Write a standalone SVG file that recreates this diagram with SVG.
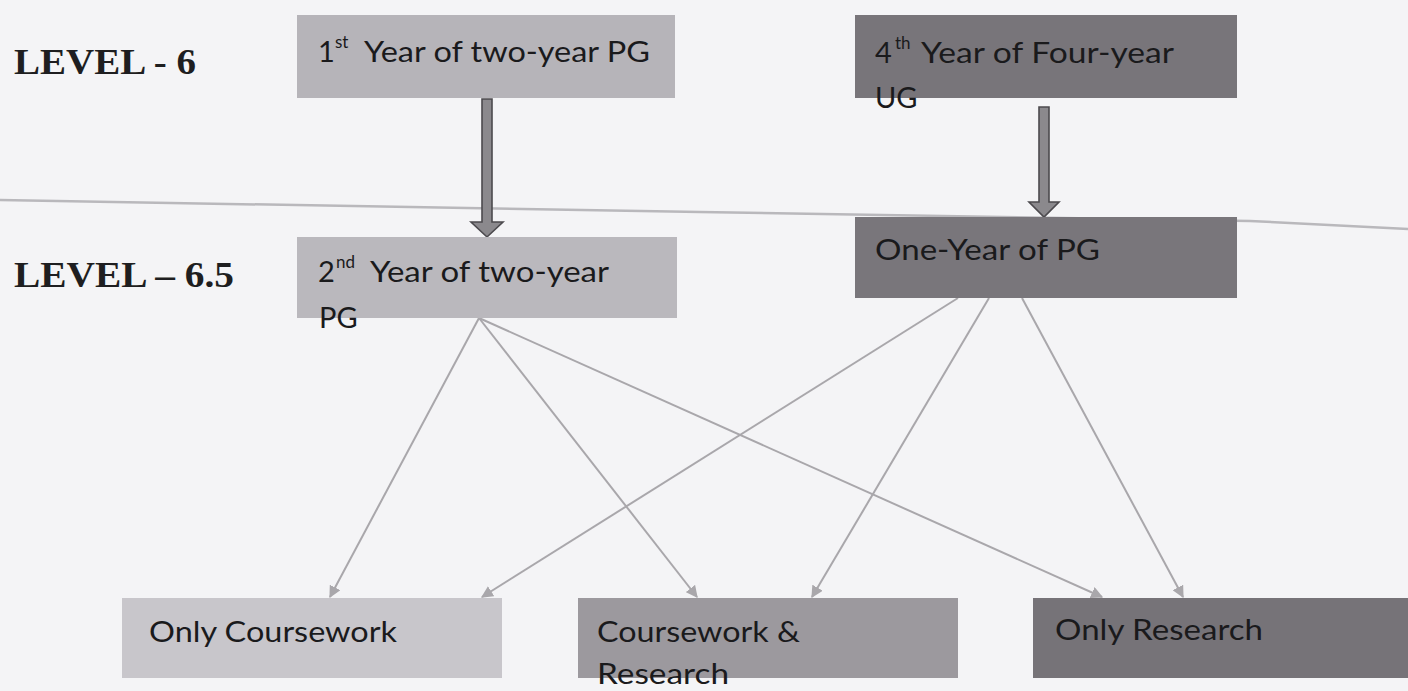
<svg xmlns="http://www.w3.org/2000/svg" width="1408" height="691" viewBox="0 0 1408 691">
<defs>
<style>
.lvl{font-family:"Liberation Serif","Times New Roman",serif;font-weight:bold;font-size:35px;fill:#1e1e20}
.t{font-family:Lato,"Open Sans","Liberation Sans",sans-serif;font-size:29px;fill:#1a1a1c}
.sup{font-size:17px}
.box{stroke:none}
.conn{stroke:#a9a7ab;stroke-width:2;fill:none;marker-end:url(#ah)}
.big{fill:#8b898d;stroke:#4c4a4e;stroke-width:1.6}
</style>
<marker id="ah" viewBox="0 0 10 10" refX="9" refY="5" markerWidth="6" markerHeight="6" orient="auto" markerUnits="strokeWidth">
<path d="M0,0 L10,5 L0,10 z" fill="#a9a7ab"/>
</marker>
</defs>
<rect width="1408" height="691" fill="#f4f4f6"/>
<polyline points="0,200 700,212 1250,221 1408,229" fill="none" stroke="#b9b8bc" stroke-width="2.5"/>

<g id="connectors">
<line class="conn" x1="479" y1="318" x2="330" y2="597"/>
<line class="conn" x1="479" y1="318" x2="697" y2="597"/>
<line class="conn" x1="479" y1="318" x2="1102" y2="597"/>
<line class="conn" x1="958" y1="298" x2="482" y2="597"/>
<line class="conn" x1="989" y1="298" x2="812" y2="597"/>
<line class="conn" x1="1022" y1="298" x2="1183" y2="597"/>
<path class="big" d="M482,99 H492 V222 H503 L487,237 L471,222 H482 Z"/>
<path class="big" d="M1039,107 H1049 V202 H1059 L1044,217 L1029,202 H1039 Z"/>
</g>

<g id="level6"><text class="lvl" x="14" y="74" textLength="182" lengthAdjust="spacingAndGlyphs">LEVEL - 6</text></g>
<g id="level65"><text class="lvl" x="14" y="287" textLength="220" lengthAdjust="spacingAndGlyphs">LEVEL – 6.5</text></g>

<g id="n1">
<rect class="box" x="297" y="15" width="378" height="83" fill="#b6b4b9"/>
<text class="t" y="62"><tspan x="318">1</tspan><tspan class="sup" x="335" y="48">st</tspan><tspan x="364" y="62" textLength="286" lengthAdjust="spacingAndGlyphs">Year of two-year PG</tspan></text>
</g>

<g id="n2">
<rect class="box" x="297" y="237" width="380" height="81" fill="#bab8bd"/>
<text class="t" y="282"><tspan x="318">2</tspan><tspan class="sup" x="336" y="268">nd</tspan><tspan x="370" y="282" textLength="239" lengthAdjust="spacingAndGlyphs">Year of two-year</tspan><tspan x="319" y="328">PG</tspan></text>
</g>

<g id="n3">
<rect class="box" x="855" y="15" width="382" height="83" fill="#78757a"/>
<text class="t" y="63"><tspan x="875">4</tspan><tspan class="sup" x="895" y="49">th</tspan><tspan x="921" y="63" textLength="253" lengthAdjust="spacingAndGlyphs">Year of Four-year</tspan><tspan x="875" y="108">UG</tspan></text>
</g>

<g id="n4">
<rect class="box" x="855" y="217" width="382" height="81" fill="#79767b"/>
<text class="t" x="875" y="260" textLength="225" lengthAdjust="spacingAndGlyphs">One-Year of PG</text>
</g>

<g id="n5">
<rect class="box" x="122" y="598" width="380" height="80" fill="#c8c6cb"/>
<text class="t" x="149" y="642" textLength="248" lengthAdjust="spacingAndGlyphs">Only Coursework</text>
</g>

<g id="n6">
<rect class="box" x="578" y="598" width="380" height="80" fill="#9c999e"/>
<text class="t" y="642"><tspan x="597" textLength="203" lengthAdjust="spacingAndGlyphs">Coursework &amp;</tspan><tspan x="597" y="684" textLength="132" lengthAdjust="spacingAndGlyphs">Research</tspan></text>
</g>

<g id="n7">
<rect class="box" x="1033" y="598" width="375" height="80" fill="#767378"/>
<text class="t" x="1055" y="640" textLength="208" lengthAdjust="spacingAndGlyphs">Only Research</text>
</g>
</svg>
